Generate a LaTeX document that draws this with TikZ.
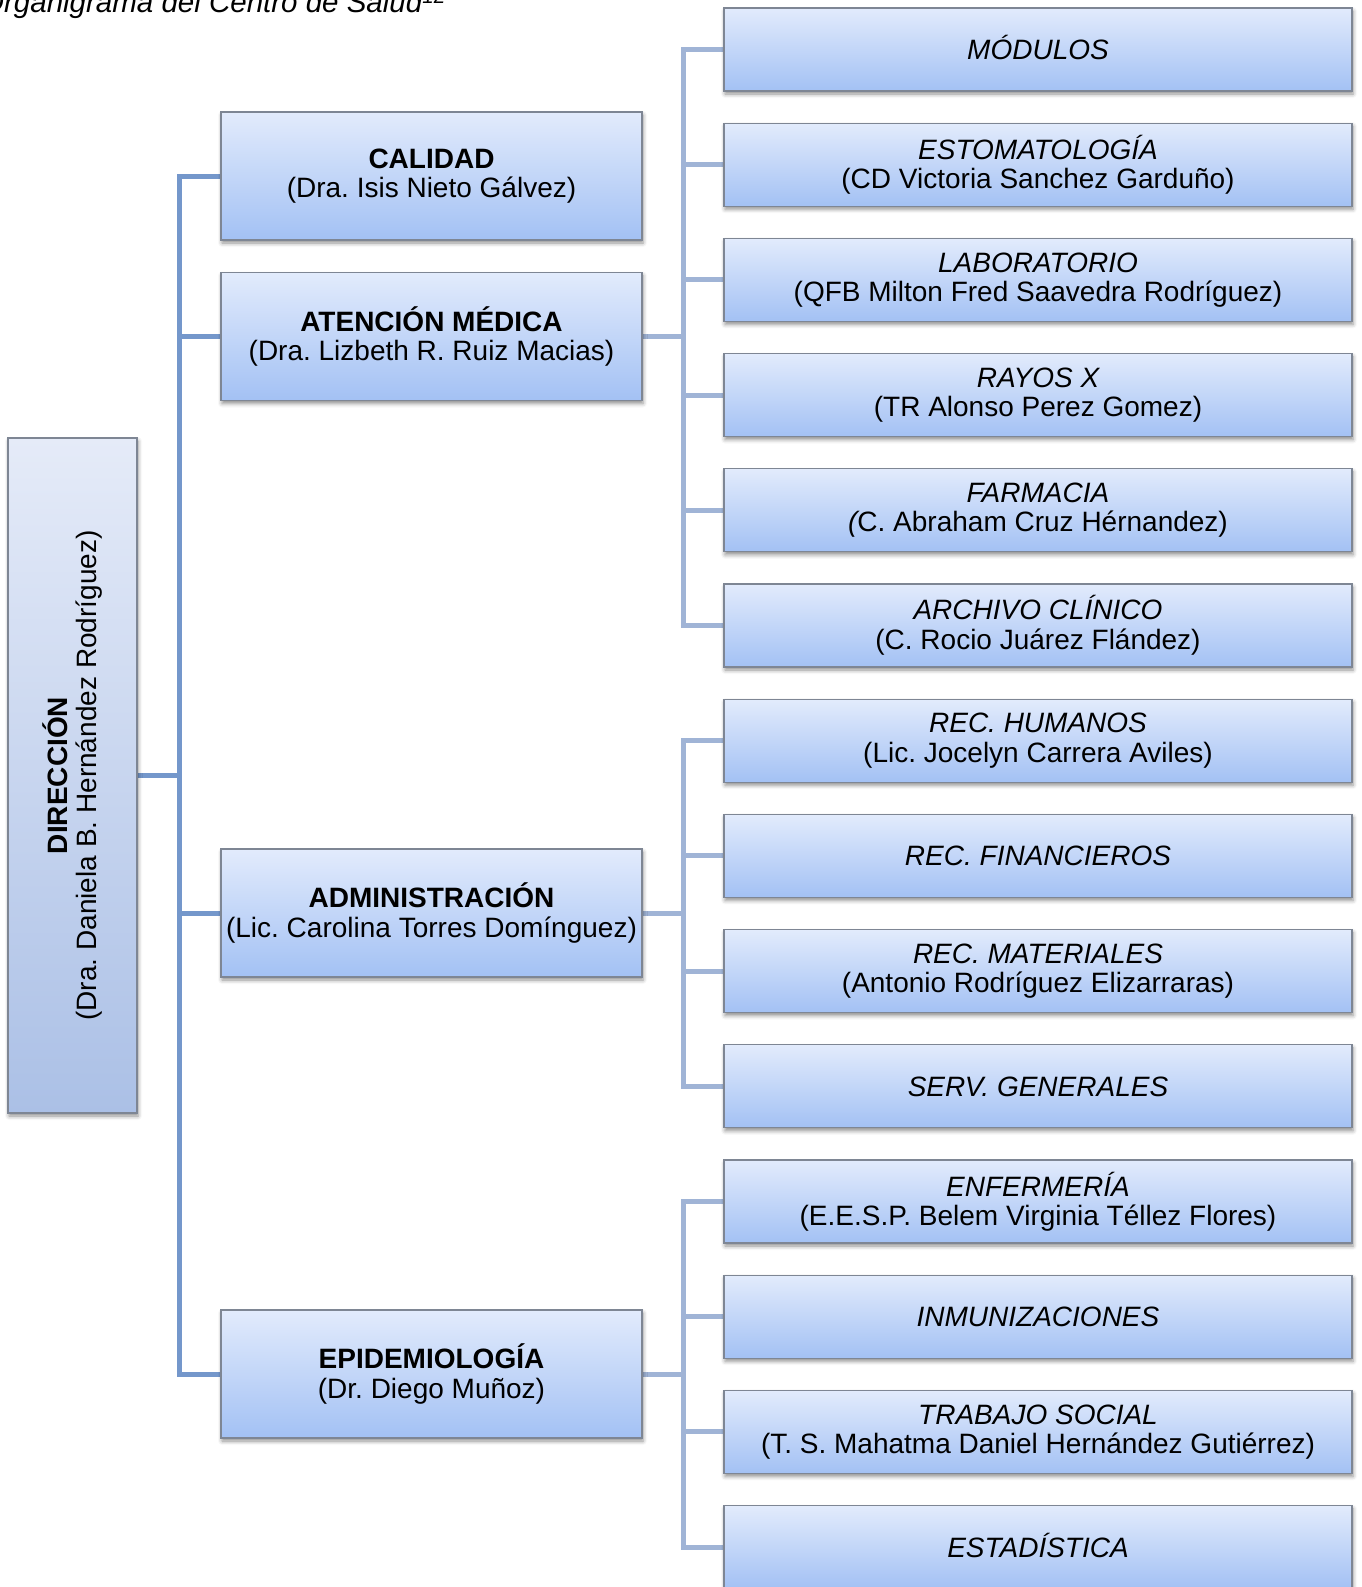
\documentclass[tikz,border=0pt]{standalone}
\usepackage{fontspec}
\setmainfont{Liberation Sans}
\usepackage{graphicx}
\usetikzlibrary{shadows.blur,backgrounds}
\definecolor{boxtop}{HTML}{E2EBFC}
\definecolor{boxbot}{HTML}{A3C1F4}
\definecolor{dirtop}{HTML}{E5EBF8}
\definecolor{dirbot}{HTML}{ABC0E6}
\definecolor{boxline}{HTML}{7E8694}
\definecolor{lineL}{HTML}{7497CB}
\definecolor{lineR}{HTML}{A0B4D6}
\frenchspacing
\begin{document}
\begin{tikzpicture}[x=1pt,y=-1pt,
  box/.style={draw=boxline, line width=1.2pt, top color=boxtop, bottom color=boxbot,
    rectangle, inner sep=0pt, align=center, font=\fontsize{28}{29.5}\selectfont,
    blur shadow={shadow xshift=1pt, shadow yshift=-3pt, shadow blur radius=4pt, shadow opacity=45}},
  midbox/.style={box, minimum width=421pt, minimum height=128pt},
  rbox/.style={box, minimum width=628pt, minimum height=83pt},
  one/.style={text height=20pt, text depth=0pt},
  dirbox/.style={box, top color=dirtop, bottom color=dirbot, minimum width=129pt, minimum height=675pt},
  conL/.style={draw=lineL, line width=5pt},
  conR/.style={draw=lineR, line width=5pt}
]
\useasboundingbox (0,0) rectangle (1361,1587);
\clip (0,0) rectangle (1361,1587);

\node[anchor=base east, font=\fontsize{29.5}{31}\selectfont\itshape, inner sep=0pt] (title) at (446,13)
  {Organigrama del Centro de Salud\textsuperscript{12}};

\node[dirbox] (dir) at (72.5,775.5)
  {\hspace*{3pt}\rotatebox{90}{\begin{tabular}{@{}c@{}}\textbf{DIRECCIÓN}\\(Dra. Daniela B. Hernández Rodríguez)\end{tabular}}};

\node[midbox] (cal) at (431.5,176) {\textbf{CALIDAD}\\(Dra. Isis Nieto Gálvez)};
\node[midbox] (atn) at (431.5,336.5) {\textbf{ATENCIÓN MÉDICA}\\(Dra. Lizbeth R. Ruiz Macias)};
\node[midbox] (adm) at (431.5,913) {\textbf{ADMINISTRACIÓN}\\(Lic. Carolina Torres Domínguez)};
\node[midbox] (epi) at (431.5,1374) {\textbf{EPIDEMIOLOGÍA}\\(Dr. Diego Muñoz)};

\node[rbox, one] (mod) at (1038,49.5) {\itshape MÓDULOS};
\node[rbox] (eto) at (1038,164.7) {{\itshape ESTOMATOLOGÍA}\\(CD Victoria Sanchez Garduño)};
\node[rbox] (lab) at (1038,279.9) {{\itshape LABORATORIO}\\(QFB Milton Fred Saavedra Rodríguez)};
\node[rbox] (ray) at (1038,395.1) {{\itshape RAYOS X}\\(TR Alonso Perez Gomez)};
\node[rbox] (far) at (1038,510.3) {{\itshape FARMACIA}\\{\itshape(}C. Abraham Cruz Hérnandez)};
\node[rbox] (arc) at (1038,625.5) {{\itshape ARCHIVO CLÍNICO}\\(C. Rocio Juárez Flández)};
\node[rbox] (rhu) at (1038,740.7) {{\itshape REC. HUMANOS}\\(Lic. Jocelyn Carrera Aviles)};
\node[rbox, one] (rfi) at (1038,855.9) {\itshape REC. FINANCIEROS};
\node[rbox] (rma) at (1038,971.1) {{\itshape REC. MATERIALES}\\(Antonio Rodríguez Elizarraras)};
\node[rbox, one] (sge) at (1038,1086.3) {\itshape SERV. GENERALES};
\node[rbox] (enf) at (1038,1201.5) {{\itshape ENFERMERÍA}\\(E.E.S.P. Belem Virginia Téllez Flores)};
\node[rbox, one] (inm) at (1038,1316.7) {\itshape INMUNIZACIONES};
\node[rbox] (tso) at (1038,1431.9) {{\itshape TRABAJO SOCIAL}\\(T. S. Mahatma Daniel Hernández Gutiérrez)};
\node[rbox, one] (esd) at (1038,1547.1) {\itshape ESTADÍSTICA};

\coordinate (busL) at (179,775.5);
\coordinate (b1) at (683,336.5);
\coordinate (b2) at (683,913);
\coordinate (b3) at (683,1374);

\begin{scope}[on background layer]
\draw[conL] (dir.east) -- (busL);
\draw[conL] (epi.west) -| (busL) |- (cal.west);
\draw[conL] (atn.west) -- (atn.west -| busL);
\draw[conL] (adm.west) -- (adm.west -| busL);

\draw[conR] (atn.east) -- (b1);
\draw[conR] (mod.west) -| (b1) |- (arc.west);
\draw[conR] (eto.west) -- (eto.west -| b1);
\draw[conR] (lab.west) -- (lab.west -| b1);
\draw[conR] (ray.west) -- (ray.west -| b1);
\draw[conR] (far.west) -- (far.west -| b1);

\draw[conR] (adm.east) -- (b2);
\draw[conR] (rhu.west) -| (b2) |- (sge.west);
\draw[conR] (rfi.west) -- (rfi.west -| b2);
\draw[conR] (rma.west) -- (rma.west -| b2);

\draw[conR] (epi.east) -- (b3);
\draw[conR] (enf.west) -| (b3) |- (esd.west);
\draw[conR] (inm.west) -- (inm.west -| b3);
\draw[conR] (tso.west) -- (tso.west -| b3);
\end{scope}
\end{tikzpicture}
\end{document}
